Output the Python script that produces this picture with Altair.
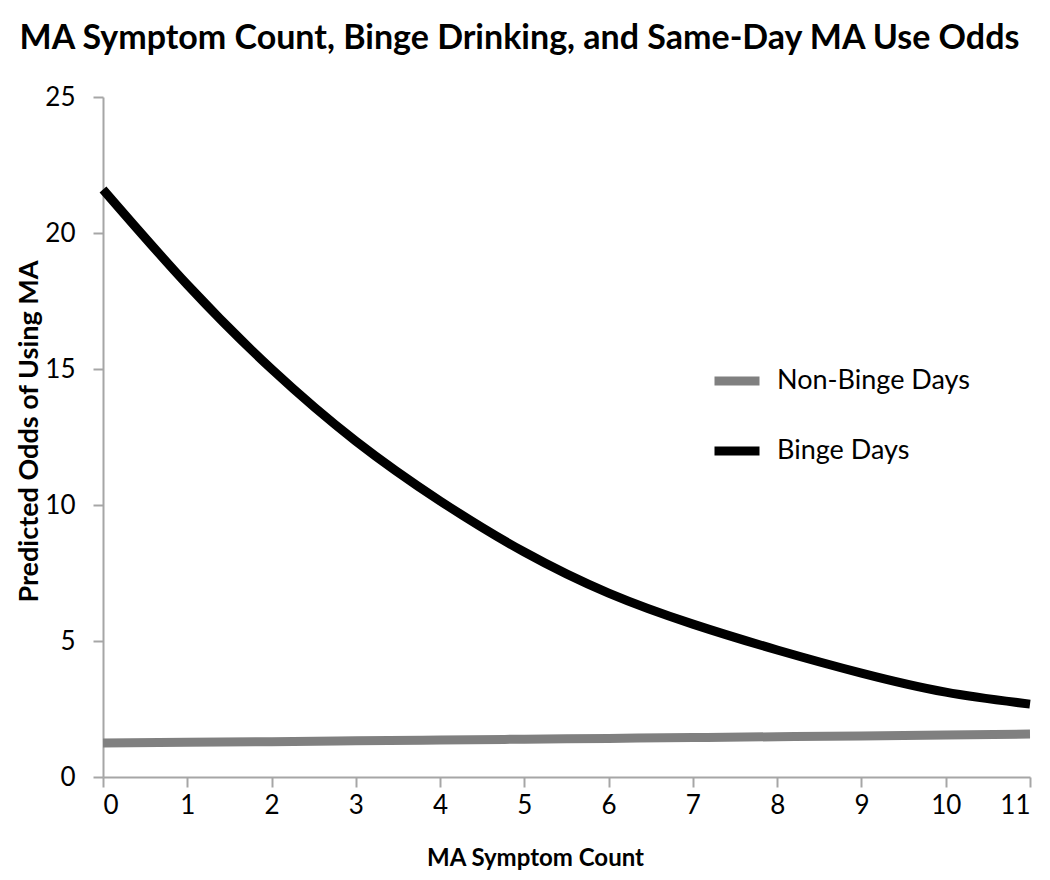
import altair as alt
import pandas as pd

symptom_count = list(range(12))
non_binge_odds = [1.25, 1.28, 1.30, 1.33, 1.36, 1.39, 1.42, 1.45, 1.48, 1.51, 1.54, 1.58]
binge_odds = [21.6, 18.1, 15.0, 12.35, 10.15, 8.27, 6.76, 5.62, 4.67, 3.82, 3.12, 2.68]
series_names = ["Non-Binge Days", "Binge Days"]
series_colors = ["#808080", "#000000"]
y_ticks = [0, 5, 10, 15, 20, 25]

rows = []
for name, vals in zip(series_names, [non_binge_odds, binge_odds]):
    for x, v in zip(symptom_count, vals):
        rows.append({"count": x, "odds": v, "series": name})
df = pd.DataFrame(rows)

FONT = "Lato"
AXIS_GRAY = "#A6A6A6"

chart = alt.Chart(df).mark_line(strokeWidth=9, interpolate="natural").encode(
    x=alt.X(
        "count:Q",
        scale=alt.Scale(domain=[0, 11], nice=False),
        axis=alt.Axis(
            values=symptom_count, title="MA Symptom Count", grid=False,
            domainColor=AXIS_GRAY, tickColor=AXIS_GRAY, tickSize=10, domainWidth=2, tickWidth=2,
            labelFont=FONT, labelFontSize=26, labelColor="#000000", labelPadding=5,
            titleFont=FONT, titleFontSize=24, titleFontWeight="bold", titleColor="#000000",
            titleX=432, titleY=81, titleBaseline="middle", titleAlign="center",
        ),
    ),
    y=alt.Y(
        "odds:Q",
        scale=alt.Scale(domain=[0, 25], nice=False),
        axis=alt.Axis(
            values=y_ticks, title="Predicted Odds of Using MA", grid=False,
            domainColor=AXIS_GRAY, tickColor=AXIS_GRAY, tickSize=10, domainWidth=2, tickWidth=2,
            labelFont=FONT, labelFontSize=26, labelColor="#000000", labelPadding=18,
            titleFont=FONT, titleFontSize=27, titleFontWeight="bold", titleColor="#000000",
            titleX=-74, titleY=334, titleBaseline="middle",
        ),
    ),
    color=alt.Color(
        "series:N",
        scale=alt.Scale(domain=series_names, range=series_colors),
        legend=alt.Legend(
            title=None, orient="none", legendX=607, legendY=257,
            symbolType="stroke", symbolStrokeWidth=9, symbolSize=2025,
            labelFont=FONT, labelFontSize=27, labelColor="#000000", labelOffset=13,
            labelLimit=0, rowPadding=25,
        ),
    ),
).properties(
    width=927,
    height=680,
    autosize=alt.AutoSizeParams(type="none"),
    padding={"left": 95, "top": 89, "right": 12, "bottom": 95},
    title=alt.Title(
        "MA Symptom Count, Binge Drinking, and Same-Day MA Use Odds",
        anchor="middle", frame="group", dx=-47, offset=28, font=FONT, fontSize=34,
        fontWeight="bold", color="#000000",
    ),
).configure_view(stroke=None)

chart.save("out.html", embed_options={"renderer": "svg", "actions": False})
